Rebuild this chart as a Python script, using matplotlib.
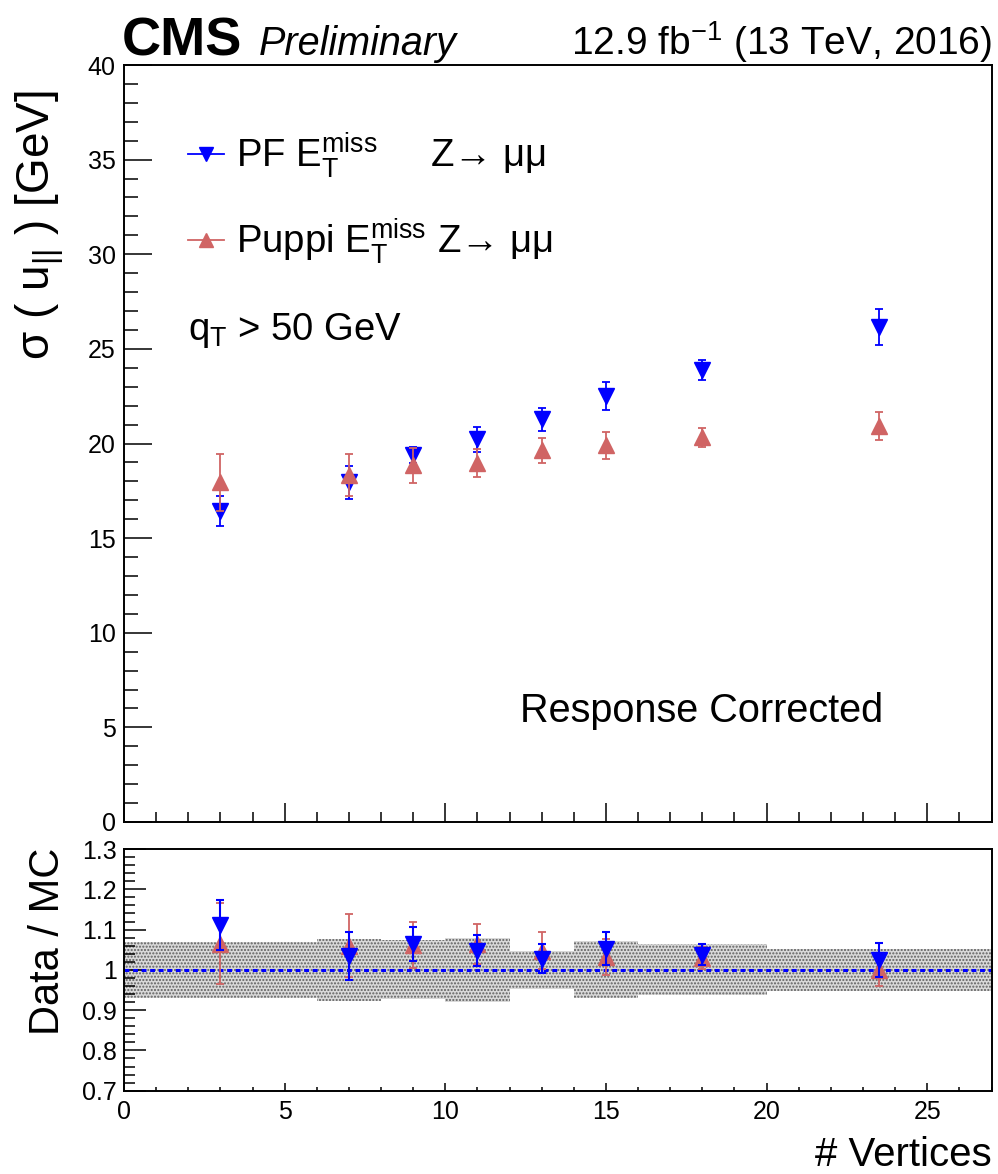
import matplotlib
matplotlib.use("Agg")
import matplotlib.pyplot as plt
from matplotlib.lines import Line2D
from matplotlib.ticker import MultipleLocator, FixedLocator, FuncFormatter

# ---------------- data ----------------
nvtx = [3, 7, 9, 11, 13, 15, 18, 23.5]

pf_sigma = [16.44, 17.94, 19.40, 20.22, 21.28, 22.50, 23.90, 26.15]
pf_sigma_err = [0.79, 0.87, 0.42, 0.65, 0.60, 0.75, 0.52, 0.96]
puppi_sigma = [17.95, 18.33, 18.84, 18.96, 19.64, 19.90, 20.33, 20.92]
puppi_sigma_err = [1.50, 1.13, 0.91, 0.73, 0.67, 0.70, 0.50, 0.76]

pf_ratio = [1.112, 1.034, 1.064, 1.048, 1.028, 1.053, 1.038, 1.024]
pf_ratio_err = [0.062, 0.060, 0.042, 0.039, 0.035, 0.040, 0.027, 0.042]
puppi_ratio = [1.065, 1.060, 1.062, 1.065, 1.048, 1.032, 1.030, 1.000]
puppi_ratio_err = [0.100, 0.078, 0.058, 0.050, 0.046, 0.044, 0.027, 0.040]

mc_edges = [0, 6, 8, 10, 12, 14, 16, 20, 27]
mc_unc = [0.070, 0.077, 0.073, 0.080, 0.048, 0.071, 0.063, 0.053]

top_yticks = [0, 5, 10, 15, 20, 25, 30, 35, 40]
ratio_yticks = [0.7, 0.8, 0.9, 1.0, 1.1, 1.2, 1.3]
xticks = [0, 5, 10, 15, 20, 25]

# ---------------- style ----------------
plt.rcParams['font.family'] = ['Liberation Sans', 'DejaVu Sans']
plt.rcParams['mathtext.fontset'] = 'custom'
plt.rcParams['mathtext.rm'] = 'Liberation Sans'
plt.rcParams['mathtext.it'] = 'Liberation Sans:italic'
plt.rcParams['mathtext.bf'] = 'Liberation Sans:bold'
plt.rcParams['mathtext.sf'] = 'Liberation Sans'
plt.rcParams['hatch.linewidth'] = 1.0
plt.rcParams['hatch.color'] = '#5e5e5e'

BLUE = '#0000ff'
RED = '#d06464'

fig = plt.figure(figsize=(9.98, 11.74), dpi=100)
ax = fig.add_axes([0.12425, 0.29983, 0.86924, 0.6448])
axr = fig.add_axes([0.12425, 0.07095, 0.86924, 0.20588])

for a in (ax, axr):
    for s in a.spines.values():
        s.set_linewidth(1.4)
    a.set_xlim(0, 27)

# ---------------- top panel ----------------
ax.errorbar(nvtx, pf_sigma, yerr=pf_sigma_err, fmt='v', color=BLUE, ms=11,
            elinewidth=1.3, capsize=3, capthick=1.3, zorder=3)
ax.errorbar(nvtx, puppi_sigma, yerr=puppi_sigma_err, fmt='^', color=RED, ms=11,
            elinewidth=1.3, capsize=3, capthick=1.3, zorder=4)
ax.set_ylim(0, 40)
ax.yaxis.set_major_locator(FixedLocator(top_yticks))
ax.yaxis.set_minor_locator(MultipleLocator(1))
ax.xaxis.set_major_locator(FixedLocator(xticks))
ax.xaxis.set_minor_locator(MultipleLocator(1))
ax.tick_params(axis='y', which='major', direction='in', length=20, width=1.1,
               labelsize=18, pad=6, left=True, right=False)
ax.tick_params(axis='y', which='minor', direction='in', length=10, width=1.1,
               left=True, right=False)
ax.tick_params(axis='x', which='major', direction='in', length=14, width=1.1,
               labelbottom=False, bottom=True, top=False)
ax.tick_params(axis='x', which='minor', direction='in', length=7, width=1.1,
               bottom=True, top=False)

handles = [
    Line2D([], [], color=BLUE, marker='v', ms=10, lw=1.3),
    Line2D([], [], color=RED, marker='^', ms=10, lw=1.3),
]
labels = [
    'PF E$_{\\rm T}^{\\rm miss}$     Z\u2192 \u03bc\u03bc',
    'Puppi E$_{\\rm T}^{\\rm miss}$ Z\u2192 \u03bc\u03bc',
]
ax.legend(handles, labels, loc='upper left', bbox_to_anchor=(0.074, 0.913),
          frameon=False, fontsize=27.5, handlelength=0.95, handletextpad=0.3,
          labelspacing=0.95, borderpad=0, borderaxespad=0)

ax.text(0.0738, 0.6367, 'q$_{\\rm T}$ > 50 GeV', transform=ax.transAxes,
        fontsize=27.5, ha='left', va='baseline')
ax.text(0.875, 0.132, 'Response Corrected', transform=ax.transAxes,
        fontsize=28.5, ha='right', va='baseline')

# ---------------- ratio panel ----------------
lefts = mc_edges[:-1]
widths = [mc_edges[i + 1] - mc_edges[i] for i in range(len(mc_unc))]
axr.bar(lefts, [2 * u for u in mc_unc], width=widths,
        bottom=[1 - u for u in mc_unc], align='edge',
        facecolor='#d9d9d9', edgecolor='#5e5e5e', hatch='.....',
        linewidth=0, zorder=1)
axr.axhline(1.0, color=BLUE, lw=2.2, ls=(0, (1.6, 1.2)), zorder=2)
axr.errorbar(nvtx, puppi_ratio, yerr=puppi_ratio_err, fmt='^', color=RED, ms=11,
             elinewidth=1.3, capsize=3, capthick=1.3, zorder=3)
axr.errorbar(nvtx, pf_ratio, yerr=pf_ratio_err, fmt='v', color=BLUE, ms=11,
             elinewidth=1.5, capsize=3, capthick=1.5, zorder=4)
axr.set_ylim(0.7, 1.3)
axr.yaxis.set_major_locator(FixedLocator(ratio_yticks))
axr.yaxis.set_minor_locator(MultipleLocator(0.02))
axr.yaxis.set_major_formatter(FuncFormatter(lambda v, p: '%g' % round(v, 2)))
axr.xaxis.set_major_locator(FixedLocator(xticks))
axr.xaxis.set_minor_locator(MultipleLocator(1))
axr.tick_params(axis='y', which='major', direction='in', length=15.6, width=1.1,
                labelsize=18, pad=5, left=True, right=False)
axr.tick_params(axis='y', which='minor', direction='in', length=8, width=1.1,
                left=True, right=False)
axr.tick_params(axis='x', which='major', direction='in', length=5.8, width=1.1,
                labelsize=18, pad=7, bottom=True, top=False)
axr.tick_params(axis='x', which='minor', direction='in', length=2.9, width=1.1,
                bottom=True, top=False)

# ---------------- labels ----------------
fig.text(0.0401, 1 - 90 / 1174, '\u03c3 ( u$_{||}$ ) [GeV]', rotation=90,
         ha='center', va='top', fontsize=33)
fig.text(0.048, 1 - 848 / 1174, 'Data / MC', rotation=90,
         ha='center', va='top', fontsize=30)
fig.text(0.9935, 1 - 1166 / 1174, '# Vertices', ha='right', va='baseline',
         fontsize=29)

fig.text(122 / 998, 1 - 55 / 1174, 'CMS', ha='left', va='baseline',
         fontsize=39, fontweight='bold')
fig.text(259 / 998, 1 - 55 / 1174, 'Preliminary', ha='left', va='baseline',
         fontsize=28.5, fontstyle='italic')
fig.text(0.9935, 1 - 55 / 1174, '12.9 fb$^{-1}$ (13 TeV, 2016)', ha='right',
         va='baseline', fontsize=28)

fig.savefig('out.png', dpi=100)
